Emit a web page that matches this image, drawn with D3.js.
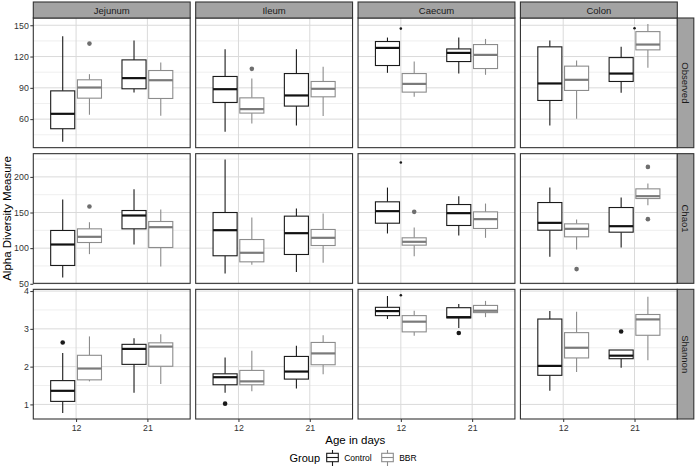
<!DOCTYPE html>
<html><head><meta charset="utf-8">
<script src="https://cdn.jsdelivr.net/npm/d3@7"></script>
<style>body{margin:0;background:#fff}svg{display:block;font-family:"Liberation Sans",Arial,sans-serif}</style>
</head><body><svg id="c" width="696" height="468"></svg>
<script>
const sites = ["Jejunum", "Ileum", "Caecum", "Colon"];
const measures = ["Observed", "Chao1", "Shannon"];
const ages = ["12", "21"];
const groups = ["Control", "BBR"];
const observedTicks = [60, 90, 120, 150];
const chao1Ticks = [50, 100, 150, 200];
const shannonTicks = [1, 2, 3, 4];

// [site, age, group, lowerWhisker, q1, median, q3, upperWhisker]
const observedBoxes = [
  ["Jejunum", "12", "Control", 38.3, 50.8, 65.1, 87.1, 139.5],
  ["Jejunum", "12", "BBR", 64.2, 80.1, 90.3, 97.7, 103.1],
  ["Jejunum", "21", "Control", 85.5, 89.1, 99.3, 116.8, 135.3],
  ["Jejunum", "21", "BBR", 63.2, 79.8, 97.3, 106.6, 114.3],
  ["Ileum", "12", "Control", 47.9, 76.0, 88.7, 100.9, 127.0],
  ["Ileum", "12", "BBR", 55.9, 65.8, 69.6, 80.4, 98.9],
  ["Ileum", "21", "Control", 54.0, 72.5, 82.7, 103.7, 127.0],
  ["Ileum", "21", "BBR", 62.9, 81.4, 89.1, 96.1, 110.1],
  ["Caecum", "12", "Control", 104.4, 111.4, 128.3, 134.4, 138.2],
  ["Caecum", "12", "BBR", 81.4, 85.9, 93.8, 103.7, 115.2],
  ["Caecum", "21", "Control", 103.7, 115.2, 123.5, 127.3, 138.2],
  ["Caecum", "21", "BBR", 102.5, 108.5, 121.6, 131.5, 136.9],
  ["Colon", "12", "Control", 54.0, 77.9, 94.2, 129.3, 135.3],
  ["Colon", "12", "BBR", 60.3, 87.5, 97.7, 110.8, 116.2],
  ["Colon", "21", "Control", 85.2, 96.1, 103.7, 119.0, 129.3],
  ["Colon", "21", "BBR", 109.2, 126.4, 131.5, 143.9, 151.3]
];
const chao1Boxes = [
  ["Jejunum", "12", "Control", 58.9, 75.7, 105.1, 124.8, 168.2],
  ["Jejunum", "12", "BBR", 91.6, 107.9, 115.9, 127.1, 136.4],
  ["Jejunum", "21", "Control", 105.1, 127.1, 145.8, 152.8, 182.7],
  ["Jejunum", "21", "BBR", 74.3, 100.9, 129.4, 137.4, 154.2],
  ["Ileum", "12", "Control", 64.5, 89.3, 125.2, 150.0, 224.3],
  ["Ileum", "12", "BBR", 76.6, 80.8, 93.5, 112.1, 143.0],
  ["Ileum", "21", "Control", 66.4, 91.1, 121.0, 144.9, 155.6],
  ["Ileum", "21", "BBR", 79.4, 103.7, 114.5, 126.2, 148.6],
  ["Caecum", "12", "Control", 120.6, 135.0, 151.9, 165.0, 185.0],
  ["Caecum", "12", "BBR", 88.8, 104.2, 108.9, 114.5, 129.0],
  ["Caecum", "21", "Control", 117.8, 131.8, 149.1, 161.2, 172.9],
  ["Caecum", "21", "BBR", 114.5, 127.6, 140.7, 150.9, 162.6],
  ["Colon", "12", "Control", 87.8, 125.2, 135.5, 164.0, 185.0],
  ["Colon", "12", "BBR", 98.1, 115.9, 127.1, 134.1, 140.2],
  ["Colon", "21", "Control", 100.9, 122.4, 130.8, 157.0, 171.0],
  ["Colon", "21", "BBR", 160.3, 169.6, 172.9, 183.2, 190.7]
];
const shannonBoxes = [
  ["Jejunum", "12", "Control", 0.77, 1.08, 1.36, 1.63, 2.36],
  ["Jejunum", "12", "BBR", 1.61, 1.65, 1.95, 2.30, 2.80],
  ["Jejunum", "21", "Control", 1.31, 2.06, 2.47, 2.59, 2.75],
  ["Jejunum", "21", "BBR", 1.54, 2.01, 2.53, 2.63, 2.86],
  ["Ileum", "12", "Control", 1.31, 1.52, 1.72, 1.81, 2.24],
  ["Ileum", "12", "BBR", 1.35, 1.52, 1.61, 1.90, 2.42],
  ["Ileum", "21", "Control", 1.42, 1.67, 1.87, 2.27, 2.55],
  ["Ileum", "21", "BBR", 1.80, 2.05, 2.35, 2.64, 2.83],
  ["Caecum", "12", "Control", 3.26, 3.35, 3.47, 3.57, 3.87],
  ["Caecum", "12", "BBR", 2.82, 2.92, 3.19, 3.35, 3.48],
  ["Caecum", "21", "Control", 3.02, 3.29, 3.31, 3.56, 3.66],
  ["Caecum", "21", "BBR", 3.31, 3.43, 3.48, 3.62, 3.74],
  ["Colon", "12", "Control", 1.36, 1.77, 2.02, 3.26, 3.47],
  ["Colon", "12", "BBR", 1.86, 2.23, 2.50, 2.90, 3.45],
  ["Colon", "21", "Control", 1.97, 2.21, 2.29, 2.44, 2.44],
  ["Colon", "21", "BBR", 2.17, 2.83, 3.25, 3.38, 3.85]
];
// outliers: [site, age, group, value]
const observedOutliers = [
  ["Jejunum", "12", "BBR", 132.4],
  ["Ileum", "12", "BBR", 108.2]
];
const chao1Outliers = [
  ["Jejunum", "12", "BBR", 158.4],
  ["Caecum", "12", "BBR", 150.9],
  ["Colon", "12", "BBR", 70.6],
  ["Colon", "21", "BBR", 214.0],
  ["Colon", "21", "BBR", 140.7]
];
const shannonOutliers = [
  ["Jejunum", "12", "Control", 2.64],
  ["Ileum", "12", "Control", 1.02],
  ["Caecum", "21", "Control", 2.89],
  ["Colon", "21", "Control", 2.93]
];
// small points not split by group: [site, age, value]
const observedPooled = [["Caecum", "12", 146.8], ["Colon", "21", 147.1]];
const chao1Pooled = [["Caecum", "12", 220.1]];
const shannonPooled = [["Caecum", "12", 3.89]];

const boxesBy = {Observed: observedBoxes, Chao1: chao1Boxes, Shannon: shannonBoxes};
const outBy = {Observed: observedOutliers, Chao1: chao1Outliers, Shannon: shannonOutliers};
const pooledBy = {Observed: observedPooled, Chao1: chao1Pooled, Shannon: shannonPooled};
const ticksBy = {Observed: observedTicks, Chao1: chao1Ticks, Shannon: shannonTicks};

const svg = d3.select("#c");
const L = 33.3, R = 677.3, T = 18, B = 419, gapX = 5.5, gapY = 6;
const pw = (R - L - gapX * 3) / 4, ph = (B - T - gapY * 2) / 3;
const color = d3.scaleOrdinal().domain(groups).range(["#1a1a1a", "#8c8c8c"]);
const medColor = d3.scaleOrdinal().domain(groups).range(["#111", "#7a7a7a"]);
const FONT = "Liberation Sans, Arial, sans-serif";

measures.forEach((m, ri) => {
  const y0 = T + ri * (ph + gapY);
  const all = [];
  boxesBy[m].forEach(d => all.push(d[3], d[7]));
  outBy[m].forEach(d => all.push(d[3]));
  pooledBy[m].forEach(d => all.push(d[2]));
  const [mn, mx] = d3.extent(all);
  const ex = (mx - mn) * 0.05;
  const y = d3.scaleLinear().domain([mn - ex, mx + ex]).range([y0 + ph, y0]);
  const tks = ticksBy[m];
  const minor = [];
  const stepT = tks[1] - tks[0];
  for (let v = tks[0] - stepT / 2; v <= mx + ex; v += stepT) if (v >= mn - ex) minor.push(v);

  sites.forEach((s, ci) => {
    const x0 = L + ci * (pw + gapX);
    const x = d3.scalePoint().domain(ages).range([x0, x0 + pw]).padding(0.6);
    const st = x.step();
    const dodge = d3.scalePoint().domain(groups).range([-0.1875 * st, 0.1875 * st]);
    const bw = 0.3375 * st;
    const g = svg.append("g");
    g.append("rect").attr("x", x0).attr("y", y0).attr("width", pw).attr("height", ph).attr("fill", "#fff");
    g.selectAll(".mn").data(minor).join("line")
      .attr("x1", x0).attr("x2", x0 + pw).attr("y1", d => y(d)).attr("y2", d => y(d))
      .attr("stroke", "#e8e8e8").attr("stroke-width", 0.7);
    g.selectAll(".mj").data(tks).join("line")
      .attr("x1", x0).attr("x2", x0 + pw).attr("y1", d => y(d)).attr("y2", d => y(d))
      .attr("stroke", "#dadada").attr("stroke-width", 1);
    g.selectAll(".vx").data(ages).join("line")
      .attr("x1", d => x(d)).attr("x2", d => x(d)).attr("y1", y0).attr("y2", y0 + ph)
      .attr("stroke", "#dadada").attr("stroke-width", 1);

    const bx = boxesBy[m].filter(d => d[0] === s);
    bx.forEach(d => {
      const cx = x(d[1]) + dodge(d[2]);
      const c = color(d[2]);
      g.append("line").attr("x1", cx).attr("x2", cx).attr("y1", y(d[7])).attr("y2", y(d[6])).attr("stroke", c).attr("stroke-width", 1.1);
      g.append("line").attr("x1", cx).attr("x2", cx).attr("y1", y(d[4])).attr("y2", y(d[3])).attr("stroke", c).attr("stroke-width", 1.1);
      g.append("rect").attr("x", cx - bw / 2).attr("y", y(d[6])).attr("width", bw).attr("height", Math.max(0, y(d[4]) - y(d[6])))
        .attr("fill", "#fff").attr("stroke", c).attr("stroke-width", 1.1);
      g.append("line").attr("x1", cx - bw / 2).attr("x2", cx + bw / 2).attr("y1", y(d[5])).attr("y2", y(d[5]))
        .attr("stroke", medColor(d[2])).attr("stroke-width", 2.2);
    });
    outBy[m].filter(d => d[0] === s).forEach(d => {
      g.append("circle").attr("cx", x(d[1]) + dodge(d[2])).attr("cy", y(d[3])).attr("r", 2.3)
        .attr("fill", d[2] === "Control" ? "#1a1a1a" : "#6e6e6e");
    });
    pooledBy[m].filter(d => d[0] === s).forEach(d => {
      g.append("circle").attr("cx", x(d[1])).attr("cy", y(d[2])).attr("r", 1.3).attr("fill", "#1a1a1a");
    });
    g.append("rect").attr("x", x0).attr("y", y0).attr("width", pw).attr("height", ph)
      .attr("fill", "none").attr("stroke", "#333").attr("stroke-width", 1.1);

    if (ri === 0) {
      g.append("rect").attr("x", x0).attr("y", 2).attr("width", pw).attr("height", T - 2)
        .attr("fill", "#a3a3a3").attr("stroke", "#333").attr("stroke-width", 1.1);
      g.append("text").attr("x", x0 + pw / 2).attr("y", 10.5).attr("text-anchor", "middle")
        .attr("dominant-baseline", "central").attr("font-size", 9.5).attr("fill", "#1a1a1a").text(s);
    }
    if (ci === 0) {
      const ax = svg.append("g").attr("transform", `translate(${x0},0)`)
        .call(d3.axisLeft(y).tickValues(tks).tickSize(3).tickPadding(1.5).tickFormat(d3.format("d")));
      ax.select(".domain").remove();
      ax.selectAll("line").attr("stroke", "#333");
      ax.selectAll("text").attr("font-size", 8.8).attr("fill", "#333").attr("font-family", FONT);
    }
    if (ri === measures.length - 1) {
      const ax = svg.append("g").attr("transform", `translate(0,${y0 + ph})`)
        .call(d3.axisBottom(x).tickSize(3).tickPadding(3));
      ax.select(".domain").remove();
      ax.selectAll("line").attr("stroke", "#333");
      ax.selectAll("text").attr("font-size", 8.8).attr("fill", "#333").attr("font-family", FONT);
    }
  });
  // right strip
  svg.append("rect").attr("x", R).attr("y", y0).attr("width", 16.5).attr("height", ph)
    .attr("fill", "#a3a3a3").attr("stroke", "#333").attr("stroke-width", 1.1);
  svg.append("text").attr("transform", `translate(${R + 8.5},${y0 + ph / 2}) rotate(90)`)
    .attr("text-anchor", "middle").attr("dominant-baseline", "central")
    .attr("font-size", 9.5).attr("fill", "#1a1a1a").text(m);
});

svg.append("text").attr("transform", `translate(6.5,${(T + B) / 2}) rotate(-90)`)
  .attr("text-anchor", "middle").attr("dominant-baseline", "central").attr("font-size", 11.5).text("Alpha Diversity Measure");
svg.append("text").attr("x", (L + R) / 2).attr("y", 440).attr("text-anchor", "middle")
  .attr("dominant-baseline", "central").attr("font-size", 11.5).text("Age in days");

// legend
const lg = svg.append("g");
lg.append("text").attr("x", 320).attr("y", 458).attr("text-anchor", "end").attr("dominant-baseline", "central").attr("font-size", 11).text("Group");
const keyX = d3.scalePoint().domain(groups).range([326.7, 381.7]);
groups.forEach(gname => {
  const kx = keyX(gname), c = color(gname);
  lg.append("line").attr("x1", kx + 5.8).attr("x2", kx + 5.8).attr("y1", 450).attr("y2", 466).attr("stroke", c).attr("stroke-width", 1.1);
  lg.append("rect").attr("x", kx).attr("y", 453.3).attr("width", 11.6).attr("height", 8.4).attr("fill", "#fff").attr("stroke", c).attr("stroke-width", 1.1);
  lg.append("line").attr("x1", kx).attr("x2", kx + 11.6).attr("y1", 457.5).attr("y2", 457.5).attr("stroke", c).attr("stroke-width", 1.1);
  lg.append("text").attr("x", kx + 17.5).attr("y", 458).attr("dominant-baseline", "central").attr("font-size", 8.5).text(gname);
});
</script></body></html>
